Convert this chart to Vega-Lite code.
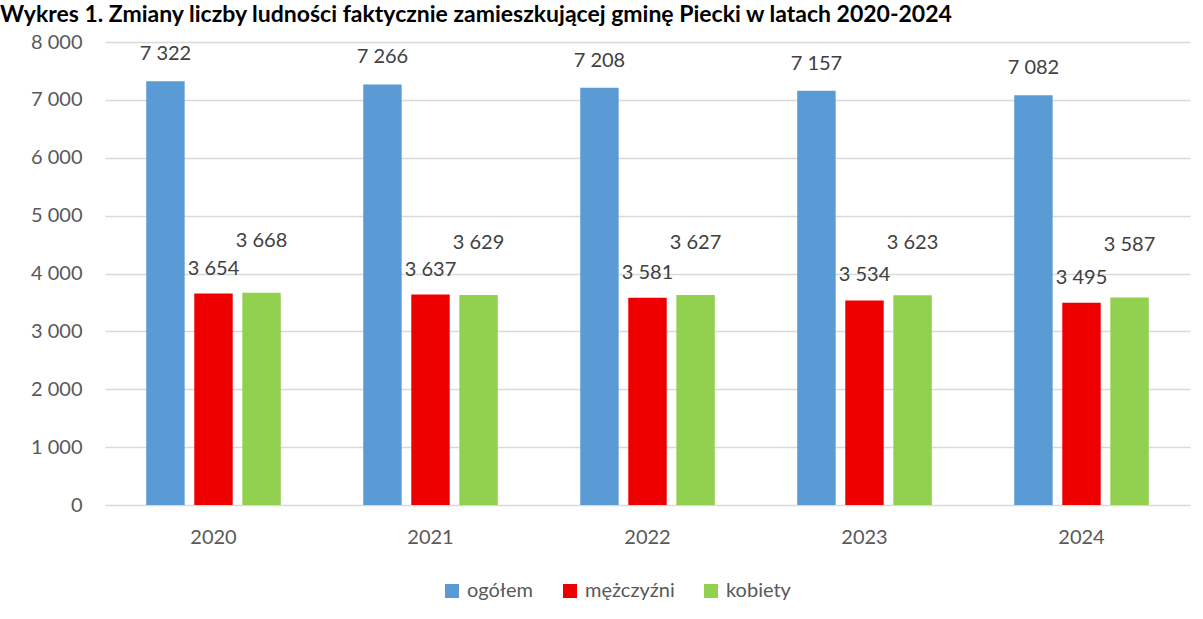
{
  "$schema": "https://vega.github.io/schema/vega-lite/v6.json",
  "autosize": {"type": "none"},
  "width": 1085,
  "height": 463,
  "padding": {"left": 105, "top": 42, "right": 13, "bottom": 114},
  "background": "#ffffff",
  "title": {
    "text": "Wykres 1. Zmiany liczby ludności faktycznie zamieszkującej gminę Piecki w latach 2020-2024",
    "anchor": "start",
    "frame": "group",
    "dx": -105,
    "dy": 33,
    "font": "Lato",
    "fontWeight": "bold",
    "fontSize": 23,
    "color": "#000000",
    "baseline": "alphabetic",
    "offset": 20
  },
  "data": {
    "values": [
      {"year": "2020", "series": "ogółem", "value": 7322},
      {"year": "2020", "series": "mężczyźni", "value": 3654},
      {"year": "2020", "series": "kobiety", "value": 3668},
      {"year": "2021", "series": "ogółem", "value": 7266},
      {"year": "2021", "series": "mężczyźni", "value": 3637},
      {"year": "2021", "series": "kobiety", "value": 3629},
      {"year": "2022", "series": "ogółem", "value": 7208},
      {"year": "2022", "series": "mężczyźni", "value": 3581},
      {"year": "2022", "series": "kobiety", "value": 3627},
      {"year": "2023", "series": "ogółem", "value": 7157},
      {"year": "2023", "series": "mężczyźni", "value": 3534},
      {"year": "2023", "series": "kobiety", "value": 3623},
      {"year": "2024", "series": "ogółem", "value": 7082},
      {"year": "2024", "series": "mężczyźni", "value": 3495},
      {"year": "2024", "series": "kobiety", "value": 3587}
    ]
  },
  "encoding": {
    "x": {
      "field": "year", "type": "nominal",
      "scale": {"paddingInner": 0.38, "paddingOuter": 0.19},
      "axis": {"title": null, "labelAngle": 0, "domain": false, "ticks": false, "labelPadding": 22, "labelFontSize": 20, "labelFont": "Lato", "labelColor": "#595959"}
    },
    "xOffset": {
      "field": "series", "type": "nominal",
      "sort": ["ogółem", "mężczyźni", "kobiety"],
      "scale": {"paddingInner": 0.2, "paddingOuter": 0}
    },
    "y": {
      "field": "value", "type": "quantitative",
      "scale": {"domain": [0, 8000], "nice": false},
      "axis": {"title": null, "values": [0,1000,2000,3000,4000,5000,6000,7000,8000], "labelOverlap": false, "domain": false, "ticks": false, "labelPadding": 23, "labelFontSize": 20, "labelFont": "Lato", "labelColor": "#595959", "gridColor": "#D9D9D9", "gridWidth": 1.3,
        "labelExpr": "replace(format(datum.value, ','), ',', ' ')"}
    }
  },
  "layer": [
    {
      "mark": {"type": "bar"},
      "encoding": {
        "color": {
          "field": "series", "type": "nominal",
          "sort": ["ogółem", "mężczyźni", "kobiety"],
          "scale": {"domain": ["ogółem", "mężczyźni", "kobiety"], "range": ["#5B9BD5", "#EE0000", "#92D050"]},
          "legend": {"title": null, "orient": "none", "legendX": 337, "legendY": 539, "direction": "horizontal", "symbolType": "square", "symbolSize": 196, "symbolStrokeWidth": 0, "labelFontSize": 20, "labelFont": "Lato", "labelColor": "#595959", "columnPadding": 26, "labelOffset": 5}
        }
      }
    },
    {
      "transform": [{"filter": "datum.series === 'ogółem'"}],
      "mark": {"type": "text", "baseline": "middle", "dy": -27, "fontSize": 20, "font": "Lato", "color": "#404040"},
      "encoding": {"text": {"field": "value", "type": "quantitative", "format": ","}}
    },
    {
      "transform": [{"filter": "datum.series === 'mężczyźni'"}],
      "mark": {"type": "text", "baseline": "middle", "dy": -25, "fontSize": 20, "font": "Lato", "color": "#404040"},
      "encoding": {"text": {"field": "value", "type": "quantitative", "format": ","}}
    },
    {
      "transform": [{"filter": "datum.series === 'kobiety'"}],
      "mark": {"type": "text", "baseline": "middle", "dy": -52, "fontSize": 20, "font": "Lato", "color": "#404040"},
      "encoding": {"text": {"field": "value", "type": "quantitative", "format": ","}}
    }
  ],
  "config": {
    "view": {"stroke": null},
    "locale": {"number": {"decimal": ",", "thousands": " ", "grouping": [3], "currency": ["", " zł"]}}
  }
}
